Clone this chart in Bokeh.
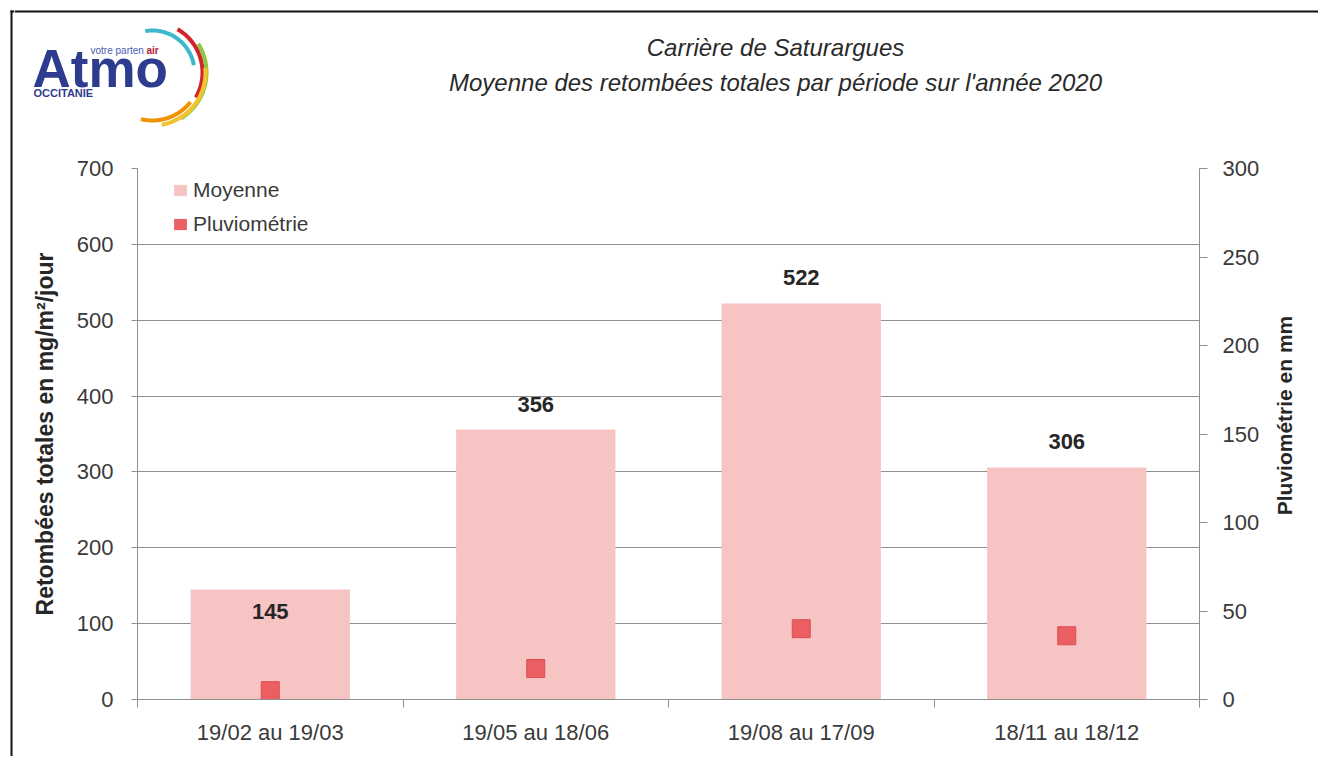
import math
import numpy as np
from bokeh.plotting import figure
from bokeh.layouts import row, column
from bokeh.models import (Range1d, LinearAxis, FixedTicker, Legend, LegendItem,
                          ColumnDataSource)
from bokeh.embed import file_html
from bokeh.resources import INLINE
from bokeh.core.properties import value

# ---------------- data ----------------
categories = ["19/02 au 19/03", "19/05 au 18/06", "19/08 au 17/09", "18/11 au 18/12"]
moyenne = [145, 356, 522, 306]
pluviometrie = [5, 17.5, 40, 36]
left_ticks = [0, 100, 200, 300, 400, 500, 600, 700]
right_ticks = [0, 50, 100, 150, 200, 250, 300]
title_lines = ["Carrière de Saturargues",
               "Moyenne des retombées totales par période sur l'année 2020"]
series_names = ["Moyenne", "Pluviométrie"]
left_title = "Retombées totales en mg/m²/jour"
right_title = "Pluviométrie en mm"

# ---------------- style ----------------
SANS = "Liberation Sans"
BAR = "#F7C4C4"
PT = "#EB5E62"
PT_LINE = "#DC4E53"
GRID = "#8F8F8F"
TXT = "#3A3A3A"
DARK = "#262626"
NAVY = "#2E3C8F"
label_offsets = [22, -25, -26, -26]   # px offsets of the value labels

TOTAL_W, TOTAL_H = 1318, 756
STRIP_W = 14
HEAD_H = 140
RSTRIP_X = 1262
FRAME_L, FRAME_R, FRAME_T, FRAME_B = 137, 1200, 168, 699   # page px
MAIN_W = RSTRIP_X - STRIP_W
RSTRIP_W = TOTAL_W - RSTRIP_X
MAIN_H = TOTAL_H - HEAD_H
NCAT = len(categories)


def blank(width, height, xr, yr):
    f = figure(width=width, height=height, x_range=Range1d(*xr), y_range=Range1d(*yr),
               output_backend="svg", toolbar_location=None, min_border=0,
               outline_line_color=None, border_fill_color="white",
               background_fill_color="white", frame_align=False)
    f.axis.visible = False
    f.grid.visible = False
    return f


# ---------------- left strip (frame border) ----------------
strip = blank(STRIP_W, TOTAL_H, (0, STRIP_W), (TOTAL_H, 0))
strip.quad(left=[10, 10], right=[12, STRIP_W], top=[10, 10], bottom=[TOTAL_H, 12],
           fill_color="#111111", line_color=None)

# ---------------- header (logo + title) ----------------
head = blank(TOTAL_W - STRIP_W, HEAD_H, (STRIP_W, TOTAL_W), (HEAD_H, 0))
head.quad(left=[STRIP_W], right=[TOTAL_W], top=[10], bottom=[12],
          fill_color="#111111", line_color=None)

head.text(x=[775, 775], y=[47, 82], text=title_lines, text_align="center",
          text_baseline="middle", text_font=value(SANS), text_font_style="italic",
          text_font_size="24px", text_color="#2a2a2a")

head.text(x=[32], y=[68], text=["Atmo"], text_align="left", text_baseline="middle",
          text_font=value(SANS), text_font_style="bold", text_font_size="53px",
          text_color=NAVY)
head.text(x=[90], y=[50], text=["votre parten"], text_align="left",
          text_baseline="middle", text_font=value(SANS), text_font_size="10px",
          text_color="#4A5BB0")
head.text(x=[146], y=[50], text=["air"], text_align="left", text_baseline="middle",
          text_font=value(SANS), text_font_style="bold", text_font_size="10px",
          text_color="#B22234")
head.text(x=[33], y=[92], text=["OCCITANIE"], text_align="left",
          text_baseline="middle", text_font=value(SANS), text_font_style="bold",
          text_font_size="11px", text_color=NAVY)

arcs = [  # (radius, start deg, end deg, colour)
    (42, 100, 10, "#3DB7CB"),
    (50, 60, -30, "#D2232A"),
    (54, 32, -58, "#8DC63F"),
    (53, 5, -80, "#F4C430"),
    (48, -38, -104, "#F39200"),
]
cx, cy = 152, 72
axs, ays, acols = [], [], []
for r, a0, a1, col in arcs:
    t = np.radians(np.linspace(a0, a1, 40))
    ro, ri = r + 2.0, r - 2.0
    axs.append(np.concatenate([cx + ro * np.cos(t), (cx + ri * np.cos(t))[::-1]]))
    ays.append(np.concatenate([cy - ro * np.sin(t), (cy - ri * np.sin(t))[::-1]]))
    acols.append(col)
head.patches(xs=axs, ys=ays, fill_color=acols, line_color=None)

# ---------------- right strip (right axis title, read bottom to top) ----------------
rstrip = blank(RSTRIP_W, MAIN_H, (RSTRIP_X, TOTAL_W), (TOTAL_H, HEAD_H))
rstrip.text(x=[1284], y=[415], text=[right_title], angle=math.pi / 2,
            text_align="center", text_baseline="middle", text_font=value(SANS),
            text_font_style="bold", text_font_size="21px", text_color=DARK)

# ---------------- main chart ----------------
p = figure(width=MAIN_W, height=MAIN_H, x_range=Range1d(0, NCAT),
           y_range=Range1d(0, left_ticks[-1]),
           output_backend="svg", toolbar_location=None,
           min_border_left=FRAME_L - STRIP_W, min_border_right=RSTRIP_X - FRAME_R,
           min_border_top=FRAME_T - HEAD_H, min_border_bottom=TOTAL_H - FRAME_B,
           outline_line_color=None, background_fill_color="white",
           border_fill_color="white", frame_align=False)
p.extra_y_ranges = {"rain": Range1d(0, right_ticks[-1])}

xs = [i + 0.5 for i in range(NCAT)]
src = ColumnDataSource(dict(x=xs, moy=moyenne, pluv=pluviometrie,
                            lab=[str(v) for v in moyenne], off=label_offsets))

bars = p.vbar(x="x", top="moy", width=0.6, fill_color=BAR, line_color=None, source=src)
pts = p.scatter(x="x", y="pluv", y_range_name="rain", marker="square", size=18,
                fill_color=PT, line_color=PT_LINE, source=src)
# zero-width bars: only used to give the legend a full-size square swatch
leg_sw = p.vbar(x="x", top="pluv", width=0, y_range_name="rain", fill_color=PT,
                line_color=None, source=src)

p.text(x="x", y="moy", text="lab", y_offset="off", source=src,
       text_align="center", text_baseline="middle",
       text_font=value(SANS), text_font_style="bold", text_font_size="22px",
       text_color=DARK)

p.xgrid.visible = False
p.ygrid.ticker = FixedTicker(ticks=left_ticks)
p.ygrid.grid_line_color = GRID
p.ygrid.grid_line_width = 1

ya = p.yaxis[0]
ya.ticker = FixedTicker(ticks=left_ticks)
ya.axis_label = left_title
ya.axis_label_text_font = SANS
ya.axis_label_text_font_style = "bold"
ya.axis_label_text_font_size = "23px"
ya.axis_label_text_color = DARK
ya.axis_label_standoff = 16
ya.major_label_text_font = SANS
ya.major_label_text_font_size = "22px"
ya.major_label_text_color = TXT
ya.major_label_standoff = 18
ya.axis_line_color = GRID
ya.major_tick_line_color = GRID
ya.major_tick_out = 6
ya.major_tick_in = 0
ya.minor_tick_line_color = None

ra = LinearAxis(y_range_name="rain", ticker=FixedTicker(ticks=right_ticks))
ra.major_label_text_font = SANS
ra.major_label_text_font_size = "22px"
ra.major_label_text_color = TXT
ra.major_label_standoff = 15
ra.axis_line_color = GRID
ra.major_tick_line_color = GRID
ra.major_tick_out = 8
ra.major_tick_in = 0
ra.minor_tick_line_color = None
p.add_layout(ra, "right")

xa = p.xaxis[0]
xa.ticker = FixedTicker(ticks=xs, minor_ticks=list(range(NCAT + 1)))
xa.major_label_overrides = {x: c for x, c in zip(xs, categories)}
xa.major_label_text_font = SANS
xa.major_label_text_font_size = "22px"
xa.major_label_text_color = TXT
xa.major_label_standoff = 12
xa.major_tick_line_color = None
xa.major_tick_out = 0
xa.major_tick_in = 0
xa.minor_tick_line_color = GRID
xa.minor_tick_out = 8
xa.minor_tick_in = 0
xa.axis_line_color = GRID

legend = Legend(items=[LegendItem(label=series_names[0], renderers=[bars]),
                       LegendItem(label=series_names[1], renderers=[leg_sw])],
                location=(35, 461), orientation="vertical", margin=0, padding=7,
                spacing=6, glyph_width=16, glyph_height=14, label_height=28,
                label_standoff=5, label_text_font=SANS, label_text_font_size="21px",
                label_text_color=TXT, background_fill_alpha=0, border_line_color=None)
p.add_layout(legend)

layout = row(strip, column(head, row(p, rstrip, spacing=0), spacing=0), spacing=0)
open("out.html", "w").write(file_html(layout, INLINE))
